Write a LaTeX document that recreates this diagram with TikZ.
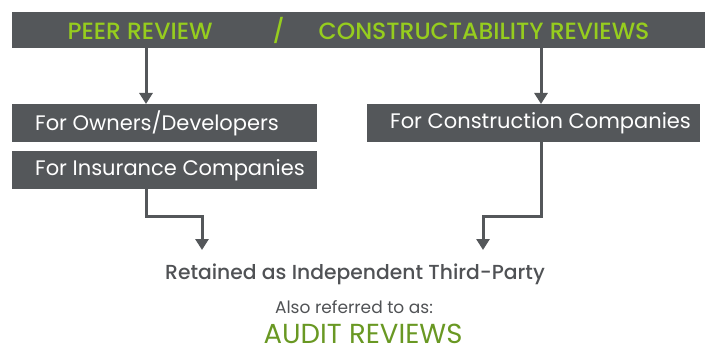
\documentclass[tikz,border=0pt]{standalone}
\usepackage{fontspec}
\setmainfont{Poppins}[BoldFont={Poppins Medium}]
\usepackage{tikz}
\usetikzlibrary{arrows.meta, positioning, calc}
\definecolor{boxgray}{RGB}{84, 87, 90}
\definecolor{limegreen}{RGB}{150, 205, 30}
\definecolor{olivegreen}{RGB}{105, 152, 35}
\definecolor{textgray}{RGB}{80, 82, 85}

\tikzset{
    tagbox/.style={fill=boxgray, text=white, minimum height=38pt, inner xsep=0pt, font=\fontsize{21}{24}\selectfont},
    flow/.style={draw=boxgray, line width=3pt, -{Triangle[width=13pt, length=11pt]}}
}

\begin{document}
\begin{tikzpicture}[x=1pt, y=-1pt]
    \useasboundingbox (0,0) rectangle (709,350);

    % Header bar
    \node[fill=boxgray, text=limegreen, minimum width=693pt, minimum height=36pt, inner sep=0pt,
          font=\bfseries\fontsize{23.5}{26}\selectfont] (top) at (358.5,30)
        {PEER REVIEW\hspace{60pt}/\hspace{34pt}CONSTRUCTABILITY REVIEWS};

    % Client boxes
    \node[tagbox, anchor=north west] (owners) at (12,104) {\makebox[305pt][l]{\hspace*{23pt}For Owners/Developers}};
    \node[tagbox, anchor=north west] (insurance) at (12,151) {\makebox[305pt][l]{\hspace*{23pt}For Insurance Companies}};
    \node[tagbox, anchor=north west] (construction) at (367,104) {\makebox[333pt][l]{\hspace*{23pt}For Construction Companies}};

    % Bottom text
    \node[text=textgray, font=\bfseries\fontsize{20.3}{24}\selectfont] (retained) at (355,274) {Retained as Independent Third-Party};
    \node[text=textgray, font=\fontsize{17}{20}\selectfont] (aka) at (354,307) {Also referred to as:};
    \node[text=olivegreen, font=\fontsize{27.5}{30}\selectfont, inner sep=0pt] (audit) at (363,334) {AUDIT REVIEWS};

    % Columns and drop points
    \coordinate (lcol) at (146,0);
    \coordinate (rcol) at (541,0);
    \coordinate (ldrop) at (202,250);
    \coordinate (rdrop) at (483,250);

    % Arrows
    \draw[flow] (top.south -| lcol) -- (owners.north -| lcol);
    \draw[flow] (top.south -| rcol) -- (construction.north -| rcol);
    \draw[flow] (insurance.south -| lcol) |- (ldrop |- 0,216) -- (ldrop);
    \draw[flow] (construction.south -| rcol) |- (rdrop |- 0,216) -- (rdrop);
\end{tikzpicture}
\end{document}
